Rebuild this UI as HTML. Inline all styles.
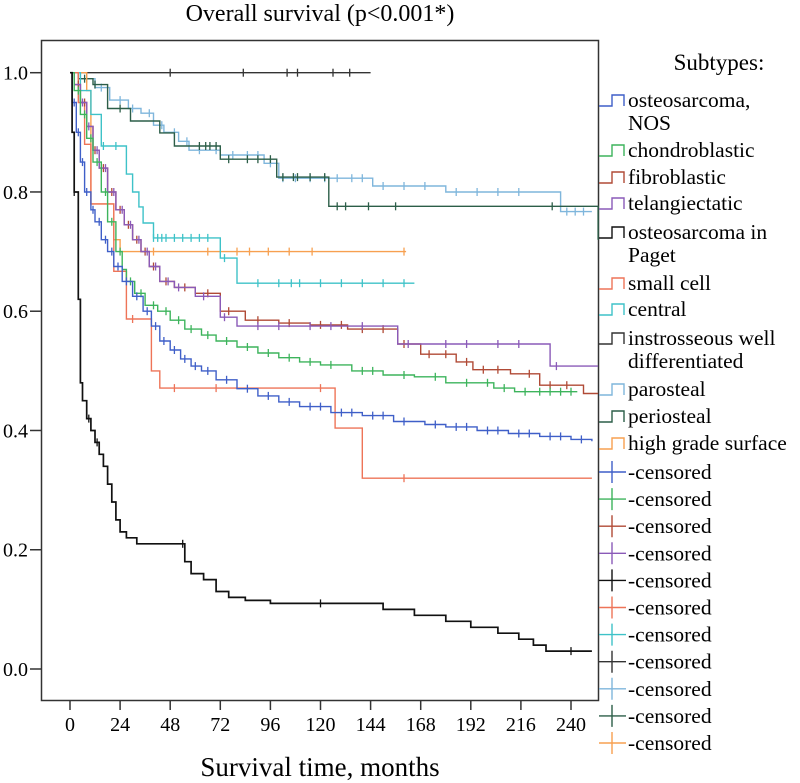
<!DOCTYPE html>
<html><head><meta charset="utf-8"><style>
html,body{margin:0;padding:0;background:#fff;}
svg{display:block;font-family:"Liberation Serif",serif;}
</style></head><body>
<svg id="chart" width="800" height="783" viewBox="0 0 800 783">
<text x="320" y="21" font-size="24" text-anchor="middle">Overall survival (p&lt;0.001*)</text>
<rect x="41.5" y="40.5" width="557" height="660" fill="none" stroke="#333" stroke-width="1.5"/>
<g id="axes"></g>
<g id="series"></g>
<text x="320" y="776" font-size="27" text-anchor="middle">Survival time, months</text>
<g id="legend"></g>
</svg>
<script>
const xTicks=[0,24,48,72,96,120,144,168,192,216,240];
const yTicks=[0.0,0.2,0.4,0.6,0.8,1.0];
const names=["osteosarcoma, NOS","chondroblastic","fibroblastic","telangiectatic","osteosarcoma in Paget","small cell","central","instrosseous well differentiated","parosteal","periosteal","high grade surface"];
const colors=["#3f5fc8","#3db45c","#b04a36","#8a5ab8","#111111","#ee7458","#3ec2c8","#333333","#7fb6dc","#2c5e48","#f7a050"];
// series: times and survival values (step changes)
const nosT=[1,3,5,7,10,12,15,18,21,25,30,35,39,43,48,53,58,63,70,80,90,100,110,125,140,155,170,180,195,210,225,240,250];
const nosV=[0.95,0.9,0.85,0.8,0.77,0.75,0.72,0.7,0.675,0.65,0.625,0.6,0.575,0.55,0.535,0.52,0.508,0.5,0.485,0.47,0.458,0.448,0.44,0.43,0.425,0.415,0.41,0.406,0.40,0.395,0.39,0.385,0.382];
const chT=[2,5,8,11,15,18,22,25,27,31,36,42,48,55,63,70,80,90,100,110,120,135,150,165,180,203,213,243];
const chV=[0.97,0.93,0.89,0.85,0.80,0.75,0.70,0.67,0.65,0.63,0.61,0.60,0.585,0.57,0.56,0.55,0.54,0.53,0.522,0.515,0.51,0.50,0.493,0.49,0.48,0.471,0.465,0.465];
const fbT=[2,5,8,11,14,18,22,26,30,34,38,43,50,60,72,84,100,115,133,157,168,185,193,211,225,246,253];
const fbV=[0.98,0.95,0.91,0.87,0.84,0.80,0.77,0.745,0.72,0.70,0.675,0.65,0.64,0.63,0.60,0.585,0.58,0.577,0.57,0.545,0.528,0.515,0.502,0.495,0.476,0.462,0.462];
const tlT=[2,5,8,11,14,18,22,26,30,34,38,43,50,60,72,80,157,230,253];
const tlV=[0.98,0.95,0.91,0.87,0.84,0.80,0.77,0.745,0.72,0.70,0.675,0.65,0.64,0.625,0.59,0.575,0.545,0.508,0.508];
const pgT=[1,2,4,5,6,8,10,12,14,16,18,20,22,24,27,32,52,55,58,64,70,76,84,96,120,150,165,180,192,205,215,222,228,250];
const pgV=[0.9,0.8,0.62,0.48,0.45,0.42,0.40,0.38,0.36,0.34,0.31,0.28,0.25,0.23,0.22,0.21,0.21,0.18,0.16,0.15,0.13,0.12,0.115,0.11,0.11,0.10,0.09,0.08,0.07,0.06,0.05,0.04,0.03,0.03];
const scT=[4,7,10,21,27,39,43,127,140,250];
const scV=[0.95,0.88,0.78,0.667,0.587,0.50,0.471,0.404,0.32,0.32];
const ceT=[5,10,15,27,30,33,35,40,72,80,165];
const ceV=[0.97,0.93,0.877,0.83,0.80,0.775,0.748,0.723,0.689,0.647,0.647];
const ioT=[144];
const ioV=[1.0];
const paT=[5,12,19,28,34,40,45,52,57,72,93,100,145,180,235,250];
const paV=[0.99,0.975,0.954,0.94,0.932,0.912,0.90,0.885,0.87,0.862,0.848,0.823,0.81,0.80,0.767,0.767];
const peT=[4,11,18,29,43,50,72,99,124,253];
const peV=[0.99,0.98,0.94,0.919,0.899,0.877,0.855,0.825,0.776,0.72];
const hgT=[8,10,21,24,161];
const hgV=[0.97,0.78,0.72,0.70,0.70];
// censor times
const nosC=[2,4,6,8,11,14,17,20,23,27,32,37,41,45,50,55,60,66,75,85,95,105,115,120,130,135,145,150,160,175,185,190,200,205,215,220,230,235,245];
const chC=[4,7,10,13,17,20,24,29,34,40,46,52,58,66,75,85,95,105,115,125,140,145,160,175,190,200,208,218,225,230,235,240];
const fbC=[4,7,12,16,20,24,28,32,36,40,46,55,66,76,90,105,120,130,140,150,160,172,180,190,198,205,220,230,238];
const tlC=[6,9,13,17,21,25,29,33,37,41,47,52,64,74,90,100,115,125,140,162,180,190,205,215,233];
const pgC=[2,9,13,54,120,240];
const scC=[30,50,70,120,160];
const ceC=[16,22,40,42,44,46,50,54,58,62,66,74,90,100,106,110,120,130,140,150,160];
const ioC=[48,83,104,109,126,134];
const paC=[8,15,24,30,38,44,50,56,62,70,78,85,90,96,102,108,115,122,128,135,140,150,160,170,185,195,205,215,238,242,246];
const peC=[7,12,24,62,65,67,70,76,85,90,96,102,107,109,115,122,128,132,143,156,231];
const hgC=[40,66,80,86,95,105,116,160];

const X0=70,XS=501/240,Y0=669,YS=596.3;
function xs(t){return X0+t*XS;}
function ys(v){return Y0-v*YS;}
const NS="http://www.w3.org/2000/svg";
function mk(tag,attrs,parent){const e=document.createElementNS(NS,tag);for(const k in attrs)e.setAttribute(k,attrs[k]);parent.appendChild(e);return e;}
const axes=document.getElementById('axes');
xTicks.forEach(t=>{
  const l=mk('line',{x1:xs(t),x2:xs(t),y1:700.5,y2:710,stroke:'#333','stroke-width':1.5},axes);
  
  
  const tx=mk('text',{x:xs(t),y:731,'font-size':20,'text-anchor':'middle'},axes);
  tx.textContent=String(t);
  
  
});
yTicks.forEach(v=>{
  const l=mk('line',{x1:30,x2:41.5,y1:ys(v),y2:ys(v),stroke:'#333','stroke-width':1.5},axes);
  
  
  const tx=mk('text',{x:28,y:ys(v)+7,'font-size':20,'text-anchor':'end'},axes);
  tx.textContent=v.toFixed(1);
  
  
});
const allT=[nosT,chT,fbT,tlT,pgT,scT,ceT,ioT,paT,peT,hgT];
const allV=[nosV,chV,fbV,tlV,pgV,scV,ceV,ioV,paV,peV,hgV];
const allC=[nosC,chC,fbC,tlC,pgC,scC,ceC,ioC,paC,peC,hgC];
const sg=document.getElementById('series');
function valAt(T,V,t){let v=1;for(let i=0;i<T.length;i++){if(T[i]<=t)v=V[i];else break;}return v;}
const order=[7,8,9,10,6,5,2,3,1,0,4];
order.forEach(i=>{
  const T=allT[i],V=allV[i];
  let d='M'+xs(0)+' '+ys(1);
  for(let k=0;k<T.length;k++){d+=' H'+xs(T[k]).toFixed(1)+' V'+ys(V[k]).toFixed(1);}
  const p=mk('path',{d:d,fill:'none',stroke:colors[i],'stroke-width':i==4?1.7:1.4},sg);
  
  
  allC[i].forEach(t=>{
    const v=valAt(T,V,t);
    const c=mk('path',{d:'M'+xs(t).toFixed(1)+' '+(ys(v)-4).toFixed(1)+' v8',stroke:colors[i],'stroke-width':1.3},sg);
    
    
  });
});
const lg=document.getElementById('legend');
const st=mk('text',{x:719,y:70,'font-size':23,'text-anchor':'middle'},lg);
st.textContent='Subtypes:';


const lines=[["osteosarcoma,","NOS"],["chondroblastic"],["fibroblastic"],["telangiectatic"],["osteosarcoma in","Paget"],["small cell"],["central"],["instrosseous well","differentiated"],["parosteal"],["periosteal"],["high grade surface"]];
const rowY=[100,150,177,203,232,283,309,338,389,416,443];
lines.forEach((ls,i)=>{
  const y=rowY[i];
  const p=mk('path',{d:'M599 '+(y+6)+' H612 V'+(y-5)+' H624 V'+(y+6),fill:'none',stroke:colors[i],'stroke-width':1.4},lg);
  
  
  ls.forEach((s,j)=>{
    const t=mk('text',{x:628,y:y+7+j*23,'font-size':21.5},lg);
    t.textContent=s;
    
    
  });
});
for(let i=0;i<11;i++){
  const y=472+i*27.1;
  const p=mk('path',{d:'M599 '+y+' H626 M612 '+(y-11)+' V'+(y+11),fill:'none',stroke:colors[i],'stroke-width':1.4},lg);
  
  
  const t=mk('text',{x:628,y:y+7,'font-size':21.5},lg);
  t.textContent='-censored';
  
  
}
</script>
</body></html>
